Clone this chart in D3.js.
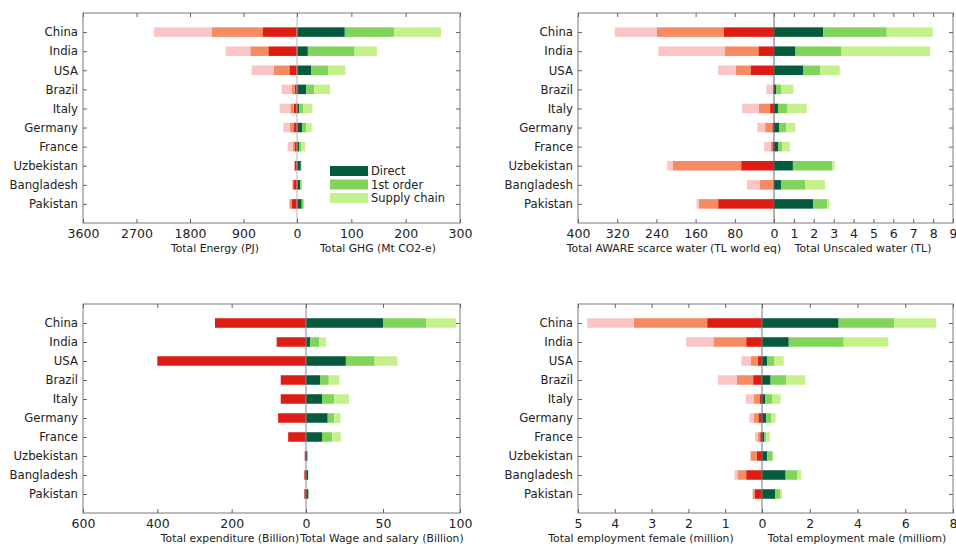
<!DOCTYPE html>
<html>
<head>
<meta charset="utf-8">
<script src="https://cdn.jsdelivr.net/npm/d3@7"></script>
<style>
  body { margin: 0; background: #fff; }
  svg { display: block; font-family: 'DejaVu Sans', sans-serif; }
  .frame { fill: none; stroke: #7a7a7a; stroke-width: 1; }
  .tick line { stroke: #666; }
  .tick text { fill: #222; }
</style>
</head>
<body>
<div id="chart"></div>
<script>
const countries = ['China', 'India', 'USA', 'Brazil', 'Italy', 'Germany', 'France', 'Uzbekistan', 'Bangladesh', 'Pakistan']
const segmentNames = ['Direct', '1st order', 'Supply chain']

// energy (PJ) - left of top-left panel
const energyDirect = [572, 482, 129, 39, 56, 50, 34, 39, 62, 90]
const energyFirst  = [858, 303, 258, 51, 56, 73, 33, 6, 16, 33]
const energySupply = [975, 415, 376, 168, 180, 107, 90, 0, 6, 12]
// GHG (Mt CO2-e)
const ghgDirect = [88, 20, 26, 17, 4.3, 10, 4.3, 7, 6, 8.6]
const ghgFirst  = [91, 86, 31, 14.5, 7.4, 7, 3.7, 1, 2.6, 3.7]
const ghgSupply = [86, 41, 32, 29.5, 16.7, 10, 7, 0, 0.4, 0.7]

// AWARE scarce water (TL world eq)
const awareDirect = [103, 32, 48, 1.4, 8, 3.4, 3.4, 67, 0.7, 114]
const awareFirst  = [136, 69, 30, 0.6, 23, 14.6, 3.6, 140, 28, 39]
const awareSupply = [86, 135, 36, 13.6, 34, 16, 13, 11, 26.4, 5]
// unscaled water (TL)
const waterDirect = [2.47, 1.08, 1.48, 0.1, 0.2, 0.25, 0.22, 0.95, 0.35, 1.97]
const waterFirst  = [3.2, 2.32, 0.84, 0.25, 0.48, 0.37, 0.2, 1.97, 1.23, 0.71]
const waterSupply = [2.31, 4.45, 0.98, 0.62, 0.97, 0.45, 0.38, 0.13, 0.99, 0.1]

// expenditure (Billion) - direct only
const expDirect = [245, 79, 400, 68, 68, 75, 48, 3.6, 4.5, 4.5]
const expFirst  = [0, 0, 0, 0, 0, 0, 0, 0, 0, 0]
const expSupply = [0, 0, 0, 0, 0, 0, 0, 0, 0, 0]
// wage and salary (Billion)
const wageDirect = [50, 2.8, 25.9, 9.1, 10.4, 14.1, 10.4, 0.9, 1.3, 1.5]
const wageFirst  = [28, 5.7, 18.7, 5.7, 7.9, 4.2, 6.6, 0.1, 0.2, 0.2]
const wageSupply = [19.6, 4.5, 14.7, 6.9, 9.7, 4.1, 5.6, 0, 0, 0]

// employment female / male (million)
const femaleDirect = [1.49, 0.43, 0.11, 0.24, 0.07, 0.1, 0.05, 0.14, 0.43, 0.2]
const femaleFirst  = [2.0, 0.89, 0.19, 0.44, 0.15, 0.13, 0.06, 0.17, 0.24, 0.05]
const femaleSupply = [1.26, 0.74, 0.26, 0.52, 0.22, 0.11, 0.08, 0, 0.08, 0.01]
const maleDirect = [3.21, 1.12, 0.22, 0.36, 0.14, 0.18, 0.1, 0.22, 0.99, 0.56]
const maleFirst  = [2.32, 2.3, 0.3, 0.66, 0.28, 0.2, 0.08, 0.23, 0.48, 0.21]
const maleSupply = [1.76, 1.87, 0.39, 0.8, 0.36, 0.19, 0.16, 0.01, 0.18, 0.07]

const leftColors = ['#dd1c16', '#f68a62', '#fac5c4']
const rightColors = ['#055a3c', '#80d45a', '#c5f18d']

const svg = d3.select('#chart').append('svg')
    .attr('width', 956)
    .attr('height', 547)

const panels = [
    { left: 83, zero: 297, right: 460, top: 13, bottom: 223,
      lData: [energyDirect, energyFirst, energySupply], lMax: 3600, lTicks: [3600, 2700, 1800, 900, 0],
      rData: [ghgDirect, ghgFirst, ghgSupply], rMax: 300, rTicks: [100, 200, 300],
      lTitle: 'Total Energy (PJ)', lTitleX: 215, rTitle: 'Total GHG (Mt CO2-e)', rTitleX: 378,
      zeroColor: '#b5b5b5', legend: true },
    { left: 578, zero: 774, right: 953, top: 13, bottom: 223,
      lData: [awareDirect, awareFirst, awareSupply], lMax: 400, lTicks: [400, 320, 240, 160, 80, 0],
      rData: [waterDirect, waterFirst, waterSupply], rMax: 9, rTicks: [1, 2, 3, 4, 5, 6, 7, 8, 9],
      lTitle: 'Total AWARE scarce water (TL world eq)', lTitleX: 674, rTitle: 'Total Unscaled water (TL)', rTitleX: 863,
      zeroColor: '#666' },
    { left: 83, zero: 306, right: 460, top: 304, bottom: 513,
      lData: [expDirect, expFirst, expSupply], lMax: 600, lTicks: [600, 400, 200, 0],
      rData: [wageDirect, wageFirst, wageSupply], rMax: 100, rTicks: [50, 100],
      lTitle: 'Total expenditure (Billion)', lTitleX: 230, rTitle: 'Total Wage and salary (Billion)', rTitleX: 382,
      zeroColor: '#888' },
    { left: 578, zero: 762, right: 953, top: 304, bottom: 513,
      lData: [femaleDirect, femaleFirst, femaleSupply], lMax: 5, lTicks: [5, 4, 3, 2, 1, 0],
      rData: [maleDirect, maleFirst, maleSupply], rMax: 8, rTicks: [2, 4, 6, 8],
      lTitle: 'Total employment female (million)', lTitleX: 641, rTitle: 'Total employment male (milliom)', rTitleX: 857,
      zeroColor: '#777' }
]

const keys = ['direct', 'first', 'supply']

function toRows(arrs) {
    return countries.map((c, i) => ({ country: c, direct: arrs[0][i], first: arrs[1][i], supply: arrs[2][i] }))
}

panels.forEach(p => {
    const g = svg.append('g')

    const xl = d3.scaleLinear().domain([p.lMax, 0]).range([p.left, p.zero])
    const xr = d3.scaleLinear().domain([0, p.rMax]).range([p.zero, p.right])
    const y = d3.scalePoint().domain(countries).range([p.top, p.bottom]).padding(1)
    const barH = 9.5

    const stack = d3.stack().keys(keys)

    // left side bars
    const lSeries = stack(toRows(p.lData))
    lSeries.forEach((s, k) => {
        g.append('g').selectAll('rect')
            .data(s)
            .enter().append('rect')
            .attr('x', d => xl(d[1]))
            .attr('y', d => y(d.data.country) - barH / 2)
            .attr('width', d => xl(d[0]) - xl(d[1]))
            .attr('height', barH)
            .attr('fill', leftColors[k])
    })

    // right side bars
    const rSeries = stack(toRows(p.rData))
    rSeries.forEach((s, k) => {
        g.append('g').selectAll('rect')
            .data(s)
            .enter().append('rect')
            .attr('x', d => xr(d[0]))
            .attr('y', d => y(d.data.country) - barH / 2)
            .attr('width', d => xr(d[1]) - xr(d[0]))
            .attr('height', barH)
            .attr('fill', rightColors[k])
    })

    // zero line
    g.append('line')
        .attr('x1', p.zero).attr('x2', p.zero)
        .attr('y1', p.top).attr('y2', p.bottom)
        .attr('stroke', p.zeroColor)

    g.append('rect')
        .attr('class', 'frame')
        .attr('x', p.left).attr('y', p.top)
        .attr('width', p.right - p.left).attr('height', p.bottom - p.top)

    // bottom axes (ticks point inward)
    const lAxis = g.append('g')
        .attr('transform', `translate(0, ${p.bottom})`)
        .call(d3.axisBottom(xl).tickValues(p.lTicks).tickSize(-4).tickPadding(6).tickFormat(d3.format('d')))
    const rAxis = g.append('g')
        .attr('transform', `translate(0, ${p.bottom})`)
        .call(d3.axisBottom(xr).tickValues(p.rTicks).tickSize(-4).tickPadding(6).tickFormat(d3.format('d')))
    // top ticks, no labels
    g.append('g')
        .attr('transform', `translate(0, ${p.top})`)
        .call(d3.axisTop(xl).tickValues(p.lTicks).tickSize(-4).tickFormat(''))
    g.append('g')
        .attr('transform', `translate(0, ${p.top})`)
        .call(d3.axisTop(xr).tickValues(p.rTicks).tickSize(-4).tickFormat(''))

    // country axis on the left, plain ticks on the right
    const yAxis = g.append('g')
        .attr('transform', `translate(${p.left}, 0)`)
        .call(d3.axisLeft(y).tickSize(-4).tickPadding(5))
    g.append('g')
        .attr('transform', `translate(${p.right}, 0)`)
        .call(d3.axisRight(y).tickSize(-4).tickFormat(''))

    g.selectAll('.domain').remove()
    lAxis.selectAll('text').attr('font-size', 12.5).attr('font-family', 'DejaVu Sans')
    rAxis.selectAll('text').attr('font-size', 12.5).attr('font-family', 'DejaVu Sans')
    yAxis.selectAll('text').attr('font-size', 11.7).attr('font-family', 'DejaVu Sans')

    g.append('text')
        .attr('x', p.lTitleX)
        .attr('y', p.bottom + 29)
        .attr('font-size', 10.8)
        .attr('text-anchor', 'middle')
        .attr('fill', '#222')
        .text(p.lTitle)
    g.append('text')
        .attr('x', p.rTitleX)
        .attr('y', p.bottom + 29)
        .attr('font-size', 10.8)
        .attr('text-anchor', 'middle')
        .attr('fill', '#222')
        .text(p.rTitle)

    if (p.legend) {
        const lg = g.append('g').attr('transform', 'translate(330, 166)')
        segmentNames.forEach((name, i) => {
            lg.append('rect')
                .attr('x', 0).attr('y', i * 13.5)
                .attr('width', 38).attr('height', 10)
                .attr('fill', rightColors[i])
            lg.append('text')
                .attr('x', 41).attr('y', i * 13.5 + 9)
                .attr('font-size', 11.5)
                .attr('fill', '#222')
                .text(name)
        })
    }
})
</script>
</body>
</html>
